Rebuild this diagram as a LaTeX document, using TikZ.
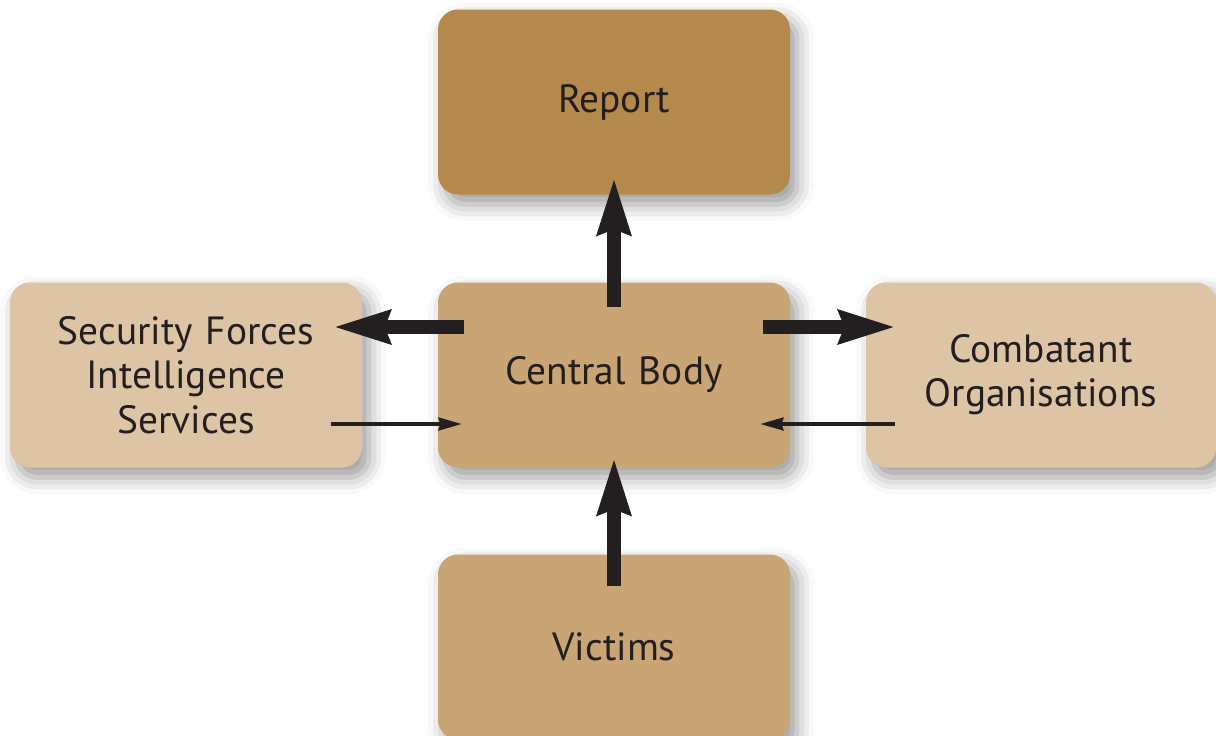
\documentclass[tikz,border=0pt]{standalone}
\usepackage{fontspec}
\setmainfont{PT Sans}
\usetikzlibrary{arrows.meta, shadows.blur}

\definecolor{scuro}{HTML}{B5884C}
\definecolor{medio}{HTML}{C9A474}
\definecolor{chiaro}{HTML}{DDC4A4}
\definecolor{testo}{HTML}{231F20}

\begin{document}
\begin{tikzpicture}
    % Definizione stili
    \tikzset{
        box/.style={
            rectangle,
            fill=#1,
            text=testo,
            text width=8.2cm,
            text centered,
            rounded corners=0.5cm,
            minimum width=8.8cm,
            minimum height=4.625cm,
            font=\fontsize{28}{31.5}\selectfont,
            blur shadow={shadow xshift=5pt, shadow yshift=-7pt,
                shadow blur radius=12pt, shadow opacity=40}
        },
        bigarrow/.style={-{Stealth[length=1.4cm, width=0.8cm, inset=0.12cm]},
            line width=0.33cm, draw=testo},
        smallarrow/.style={-{Stealth[length=0.58cm, width=0.32cm, inset=0.05cm]},
            line width=0.09cm, draw=testo}
    }

    \useasboundingbox (0,0) rectangle (30.4,-18.375);

    % Posizionamento assoluto dei riquadri
    \node[box=scuro] at (15.35,-2.55) (report) {Report};
    \node[box=medio] at (15.35,-9.375) (centrale) {Central Body};
    \node[box=chiaro] at (4.65,-9.375) (sicurezza) {
        Security Forces\\
        Intelligence\\
        Services
    };
    \node[box=chiaro, minimum width=8.75cm] at (26.025,-9.375) (combattenti) {
        Combatant\\
        Organisations
    };
    \node[box=medio] at (15.35,-16.175) (vittime) {Victims};

    % Frecce principali
    \draw[bigarrow] ([yshift=-0.625cm]centrale.north) -- ([yshift=0.425cm]report.south);
    \draw[bigarrow] ([xshift=0.65cm, yshift=1.2cm]centrale.west) -- ([xshift=-0.725cm, yshift=1.2cm]sicurezza.east);
    \draw[bigarrow] ([xshift=-0.675cm, yshift=1.2cm]centrale.east) -- ([xshift=0.75cm, yshift=1.2cm]combattenti.west);
    \draw[bigarrow] ([yshift=-0.8cm]vittime.north) -- ([yshift=0.25cm]centrale.south);

    % Frecce di ritorno
    \draw[smallarrow] ([xshift=-0.775cm, yshift=-1.225cm]sicurezza.east) -- ([xshift=0.6cm, yshift=-1.225cm]centrale.west);
    \draw[smallarrow] ([xshift=0.725cm, yshift=-1.225cm]combattenti.west) -- ([xshift=-0.75cm, yshift=-1.225cm]centrale.east);

\end{tikzpicture}
\end{document}
